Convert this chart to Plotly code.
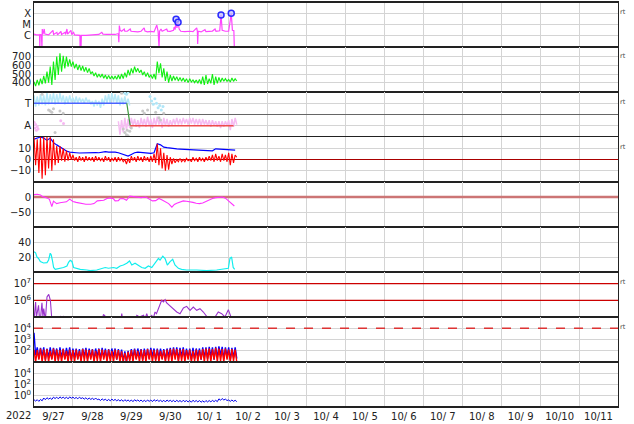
import numpy as np
import pandas as pd
import plotly.graph_objects as go
from plotly.subplots import make_subplots

# ---------------- data (hours since 2022-09-27 00:00 UT) ----------------
day_labels = ["9/27", "9/28", "9/29", "9/30", "10/ 1", "10/ 2", "10/ 3", "10/ 4",
              "10/ 5", "10/ 6", "10/ 7", "10/ 8", "10/ 9", "10/10", "10/11"]
year_label = "2022"
grid_h = list(range(0, 125, 2))

# Panel 1: X-ray flux
xr_h = [0, 1.5, 3.4, 3.6, 3.8, 4.6, 4.9, 5.1, 5.5, 6.3,
        6.7, 9, 11.7, 12.1, 14.1, 14.5, 16.6, 17, 19.1, 19.5,
        20.3, 20.7, 22.8, 23.2, 24.4, 25, 27, 28.3, 28.4, 28.7,
        29.0, 29.2, 32, 36, 40, 41.8, 42.5, 45, 48, 50,
        51.5, 52.0, 52.3, 52.6, 53.1, 54, 55.6, 56, 57.5, 59.3,
        59.8, 62, 64, 66, 67.9, 68.4, 70, 72, 74, 75.7,
        76.5, 77.1, 77.4, 78.3, 79, 81.8, 82.3, 84, 86, 86.4,
        87, 87.6, 88.1, 88.8, 89.5, 90.5, 93, 96, 98, 100.3,
        100.7, 100.9, 101.2, 103, 105.4, 106, 108, 110, 111.6, 112.2,
        114.5, 115.3, 116, 118, 120, 121.6, 122.3, 123.2, 123.5]
xr_flux = [1.4e-6, 1.2e-6, 1.2e-6, 8e-8, 1.3e-6, 1.2e-6, 8e-8, 4e-6, 1.3e-6, 4e-6,
           1.4e-6, 1.2e-6, 3e-6, 1.3e-6, 2e-6, 1.2e-6, 2.4e-6, 1.3e-6, 2e-6, 1.3e-6,
           4e-6, 1.4e-6, 3e-6, 1.3e-6, 2e-6, 1.2e-6, 1.1e-6, 1.1e-6, 8e-8, 1.1e-6,
           8e-8, 1.1e-6, 1.1e-6, 1.2e-6, 1.3e-6, 2e-6, 1.4e-6, 1.3e-6, 1.2e-6, 1.3e-6,
           1.5e-6, 1.5e-6, 2.6e-7, 8e-6, 3e-6, 2.5e-6, 4e-6, 2.5e-6, 2.5e-6, 4e-6,
           2.5e-6, 2.3e-6, 2.2e-6, 2.5e-6, 5e-6, 2.6e-6, 2.2e-6, 2.4e-6, 2.2e-6, 9e-6,
           2.5e-6, 8e-8, 2.5e-6, 4e-6, 2.5e-6, 4e-6, 2.6e-6, 2.5e-6, 3e-6, 6e-6,
           3.5e-6, 3e-5, 5e-6, 1.6e-5, 4e-6, 2.5e-6, 2.3e-6, 2.5e-6, 2.3e-6, 5e-6,
           2.5e-6, 1.9e-7, 2.5e-6, 2.2e-6, 3.5e-6, 2.3e-6, 2.4e-6, 2.6e-6, 4e-6, 2.5e-6,
           2.8e-6, 7e-5, 3e-6, 2.5e-6, 2.5e-6, 1e-4, 3e-6, 2.8e-6, 8e-8]
flare_h = [87.6, 88.8, 115.3, 121.6]
flare_flux = [3e-5, 1.6e-5, 7e-5, 1e-4]
xr_tickvals = [1e-6, 1e-5, 1e-4]
xr_ticktext = ["C", "M", "X"]

# Panel 2: solar wind speed (upper / lower readings on the 2 h grid)
sw_hi = [415, 435, 450, 481, 531, 589, 646, 704, 743,
         712, 704, 673, 646, 619, 608, 596, 581, 569,
         531, 519, 504, 504, 492, 488, 481, 481, 492,
         504, 519, 550, 569, 589, 569, 550, 531, 519,
         496, 504, 646, 627, 569, 531, 492, 481, 473,
         465, 458, 450, 450, 435, 435, 442, 473, 492,
         450, 504, 473, 465, 458, 450, 442, 458, 450]
sw_lo = [365, 373, 388, 396, 404, 377, 435, 492, 531,
         569, 589, 589, 569, 550, 542, 531, 519, 504,
         481, 465, 465, 454, 446, 446, 442, 442, 446,
         450, 465, 488, 512, 527, 519, 492, 473, 465,
         450, 442, 512, 465, 423, 404, 423, 431, 423,
         419, 415, 404, 411, 404, 396, 388, 377, 388,
         396, 377, 396, 411, 419, 419, 411, 419, 423]

# Panel 3: sector (T / A)
t_grid = list(range(0, 59, 2))
t_hi = [1.7, 1.6, 1.8, 1.7, 1.9, 1.8, 1.9, 1.8, 1.9, 1.7, 1.6, 1.7, 1.5, 1.6, 1.5,
        1.4, 1.5, 1.3, 1.2, 1.3, 1.2, 1.4, 1.7, 1.8, 1.9, 1.8, 1.7, 1.5, 1.6, 1.4]
t_lo = [0.7, 0.8, 0.9, 0.8, 0.9, 1.0, 0.9, 1.0, 1.1, 0.9, 1.0, 1.1, 1.0, 1.0, 1.1,
        1.0, 1.1, 0.9, 0.7, 0.8, 0.6, 0.8, 1.0, 1.0, 1.1, 1.0, 0.8, 0.9, 0.9, 0.8]
a_grid = list(range(52, 125, 2))
a_hi = [-0.6, -0.5, -0.3, -0.4, -0.3, -0.4, -0.5, -0.3, -0.4,
        -0.2, -0.4, -0.3, -0.2, -0.4, -0.3, -0.4, -0.5, -0.4,
        -0.3, -0.4, -0.3, -0.4, -0.3, -0.3, -0.4, -0.4, -0.4,
        -0.5, -0.5, -0.5, -0.6, -0.6, -0.6, -0.6, -0.5, -0.4, -0.3]
a_lo = [-1.8, -1.6, -1.4, -1.2, -1.0, -1.1, -1.2, -1.0, -1.1,
        -1.0, -1.2, -1.0, -0.9, -1.2, -1.0, -1.1, -1.0, -0.9,
        -0.9, -0.9, -0.8, -0.9, -0.8, -0.9, -0.9, -1.0, -0.9,
        -1.0, -1.1, -1.0, -1.1, -1.2, -1.1, -1.0, -1.4, -1.1, -0.9]
gray_h = [5, 9, 10, 11, 12, 13, 16, 18, 54, 55, 56, 57, 57.5, 58, 59, 60, 67, 68, 70, 75, 77, 78, 80]
gray_v = [1.8, 0.4, 0.3, 0.2, 0.5, -1.6, 0.3, 0.1, 1.9, -1.3, -1.6, -1.8, -1.4, -1.9, -1.5, -1.2,
          0.3, 0.1, 0.4, 0.2, -0.3, -0.5, 0.1]
tb_h = [56, 57, 58, 71.5, 72.5, 73.5, 74.5, 75.5, 76.5, 77.5, 78.5, 79.5]
tb_v = [1.9, 1.8, 2.0, 1.6, 1.2, 0.9, 1.4, 1.0, 0.6, 0.8, 0.4, 0.7]
pa_h = [0, 0.5, 1, 1.5, 2, 2.5, 16.5, 18.2]
pa_v = [-0.7, -1.2, -0.9, -1.4, -1.1, -1.3, -0.55, -0.8]
sector_h = [0, 57.2, 59.3, 123]
sector_v = [1, 1, -1, -1]

# Panel 4: IMF
bz_hi = [20, 18, 20, 20, 20, 20, 18, 12, 12,
         10, 8, 6, 4, 2, 3, 2, 3, 2,
         2, 3, 2, 1, 3, 2, 1, 2, 2,
         1, 0, 1, 3, 2, 3, 2, 3, 2,
         3, 5, 14, 10, 6, 4, 2, 1, 0,
         1, 0, 1, 0, 2, 1, 2, 1, 2,
         3, 4, 5, 3, 5, 4, 6, 5, 4]
bz_lo = [-5, -12, -17, -14, -8, -10, -5, -3, -1,
         -2, -1, 0, -1, -2, -1, -2, -1, -1,
         -2, -1, -1, -2, -1, -2, -1, -2, -1,
         -2, -4, -3, -1, -2, -1, -2, -1, -2,
         -2, -3, -5, -8, -10, -9, -4, -3, -2,
         -2, -2, -1, -2, -1, -2, -1, -2, -1,
         -1, -2, -1, -2, -1, -2, -5, -3, 2]
bt = [18, 19, 20, 19, 17, 19, 15, 13, 11,
      9, 7.5, 6.5, 6, 6, 5.8, 6, 6, 6.2,
      6.5, 6.2, 6, 6.5, 7, 6.5, 6.8, 6.5, 6,
      5.2, 4, 3, 4.5, 6, 6.5, 6.3, 6.2, 6,
      5.5, 6, 14, 13, 11, 10.5, 10, 9.8, 9.5,
      9.3, 9.2, 9, 8.8, 8.7, 8.5, 8.3, 8.2, 8,
      7.8, 7.7, 9.5, 9.3, 9, 8.8, 8.6, 8.5, 8.3]

# Panel 5: Dst
dst_h = [0, 2, 4, 5, 8, 9.5, 11, 12, 13, 14,
         16, 18, 20, 22, 24, 26, 28, 30, 32, 35,
         37, 39, 41, 43, 45, 47, 49, 50, 52, 53,
         55, 57, 59, 61, 63, 66, 69, 71, 73, 75,
         77, 79, 81, 83, 85, 86.5, 88, 90, 92, 94,
         96, 98, 100, 102, 104, 106, 108, 110, 112, 114,
         116, 118, 120, 122, 123.5]
dst_v = [8, 9, 7, 2, -3, -8, -32, -14, -18, -22,
         -19, -17, -16, -7, -15, -18, -20, -23, -24, -24,
         -22, -13, -12, -11, -5, -3, -6, -13, -12, -6,
         -5, -11, 3, 2, 0, -2, 0, -7, -13, -12,
         -5, -10, -16, -22, -34, -25, -21, -16, -13, -14,
         -15, -18, -21, -22, -20, -15, -8, -5, -2, -1,
         0, -4, -13, -24, -30]

# Panel 6
cy_h = [0, 1.0, 1.8, 2.8, 3.9, 5.9, 8.0, 9.0, 10.0, 10.6,
        11.3, 12.1, 13.1, 16.2, 18.2, 20.3, 21.3, 22.3, 23.4, 24.4,
        26.4, 28.5, 32.6, 34.6, 38.7, 41.8, 43.9, 45.9, 49.0, 51.0,
        53.1, 55.1, 57.2, 58.9, 60.3, 62.3, 64.4, 66.4, 68.5, 70.5,
        72.6, 74.6, 76.7, 77.7, 79.4, 80.8, 82.2, 83.9, 85.5, 86.9,
        89.0, 91.0, 94.1, 100.3, 106.4, 112.6, 116.7, 119.8, 120.8, 121.8,
        122.8, 123.7]
cy_v = [27, 25.6, 20, 18, 14, 12, 12.5, 16, 25, 23,
        16, 6, 3.6, 5, 6, 8, 13, 15.5, 14, 6,
        5, 3.6, 2.7, 1.8, 2.7, 5, 6, 5, 6, 5,
        8, 9.3, 11.6, 14.7, 9.3, 11.6, 9.3, 6, 5, 8,
        6, 11.6, 18, 16, 21, 18, 9.3, 13.8, 17, 9.3,
        4.9, 3.6, 2.7, 2.7, 1.8, 2.7, 3.6, 4.9, 18, 20,
        6, 3.6]

# Panel 7 (log10 values)
pr_h = [0, 0.5, 1.0, 1.5, 1.8, 2.8, 3.3, 3.9, 4.9, 5.5,
        6.0, 7.0, 8.0, 9.1, 10.1, 10.6, 11.1, 15.5, 16.2, 17.2,
        18.2, 19, 42, 42.8, 43.9, 44.5, 53.5, 54.1, 54.7, 62.5,
        63.4, 65, 67.5, 68.5, 69.5, 70.5, 72.6, 73.5, 74.6, 75.5,
        76.7, 77.7, 78.7, 79.8, 80.8, 81.8, 82.8, 83.9, 85.9, 88,
        90, 91, 92.1, 94.1, 96.2, 98.2, 100.3, 102.3, 104.4, 106.4,
        108.5, 111.6, 113.6, 115.7, 117.7, 119.8, 120.8, 121.8]
pr_log = [4.8, 5.5, 5.9, 5.0, 5.2, 5.7, 5.0, 4.8, 5.85, 5.0,
          5.5, 4.8, 6.2, 6.36, 6.0, 5.3, 4.7, 4.8, 5.05, 4.9,
          5.05, 4.7, 4.8, 5.15, 5.05, 4.7, 4.8, 5.2, 4.8, 4.8,
          5.1, 5.0, 5.1, 4.9, 5.2, 4.9, 5.1, 4.9, 5.3, 5.2,
          5.5, 5.7, 6.0, 5.9, 6.04, 5.84, 5.75, 5.7, 5.5, 5.3,
          5.2, 5.35, 5.54, 5.64, 5.4, 5.6, 5.4, 5.5, 5.3, 5.04,
          5.0, 5.0, 5.3, 5.2, 5.0, 5.44, 5.1, 4.9]
pr_levels = [1e6, 1e7]

# Panel 8 (log10 values)
eb_hi = [3.6, 2.3, 2.25, 2.3, 2.2, 2.3, 2.25, 2.2, 2.3,
         2.2, 2.25, 2.3, 2.2, 2.2, 2.15, 2.2, 2.25, 2.2,
         2.15, 2.2, 2.2, 2.25, 2.2, 2.15, 2.2, 2.2, 2.15,
         2.1, 1.95, 2.0, 2.15, 2.2, 2.2, 2.15, 2.2, 2.2,
         2.25, 2.2, 2.2, 2.2, 2.15, 2.2, 2.25, 2.3, 2.3,
         2.25, 2.3, 2.2, 2.2, 2.25, 2.2, 2.2, 2.3, 2.3,
         2.35, 2.3, 2.35, 2.4, 2.35, 2.3, 2.3, 2.25, 2.3]
eb_lo = [1.6, 1.3, 1.5, 1.2, 1.4, 1.3, 1.5, 1.2, 1.4,
         1.3, 1.5, 1.2, 1.4, 1.3, 1.2, 1.5, 1.3, 1.4,
         1.2, 1.5, 1.3, 1.4, 1.2, 1.3, 1.5, 1.2, 1.3,
         1.1, 1.0, 1.2, 1.4, 1.3, 1.5, 1.2, 1.4, 1.3,
         1.5, 1.2, 1.4, 1.3, 1.2, 1.5, 1.3, 1.4, 1.2,
         1.5, 1.3, 1.4, 1.2, 1.3, 1.5, 1.2, 1.4, 1.3,
         1.5, 1.2, 1.4, 1.6, 1.3, 1.5, 1.2, 1.4, 1.3]
er_hi = [2.1, 2.05, 2.2, 2.1, 2.15, 2.0, 2.2, 2.1, 2.05,
         2.15, 2.0, 2.1, 2.05, 2.1, 2.0, 2.15, 2.1, 2.05,
         2.1, 2.0, 2.15, 2.1, 2.05, 2.1, 2.0, 2.1, 2.05,
         1.95, 1.8, 1.9, 2.05, 2.1, 2.0, 2.1, 2.05, 2.15,
         2.1, 2.05, 2.1, 2.0, 2.05, 2.1, 2.15, 2.2, 2.15,
         2.1, 2.15, 2.05, 2.1, 2.0, 2.1, 2.05, 2.15, 2.2,
         2.2, 2.15, 2.25, 2.2, 2.15, 2.2, 2.1, 2.15, 2.1]
er_lo = [1.0, 1.2, 1.0, 1.1, 1.0, 1.2, 1.0, 1.1, 1.0,
         1.2, 1.0, 1.1, 1.0, 1.2, 1.0, 1.1, 1.0, 1.2,
         1.0, 1.1, 1.0, 1.2, 1.0, 1.1, 1.0, 1.2, 1.0,
         1.0, 1.0, 1.1, 1.0, 1.2, 1.0, 1.1, 1.0, 1.2,
         1.0, 1.1, 1.0, 1.2, 1.0, 1.1, 1.0, 1.2, 1.0,
         1.1, 1.0, 1.2, 1.0, 1.1, 1.0, 1.2, 1.0, 1.1,
         1.0, 1.2, 1.0, 1.1, 1.0, 1.2, 1.0, 1.1, 1.0]
e_level = [1e4]

# Panel 9 (log10 values)
p9_hi = [-0.7, -0.7, -0.65, -0.4, -0.35, -0.4, -0.25, -0.25, -0.2,
         -0.25, -0.25, -0.2, -0.25, -0.3, -0.25, -0.35, -0.35, -0.4,
         -0.45, -0.4, -0.6, -0.55, -0.6, -0.65, -0.6, -0.65, -0.7,
         -0.7, -0.7, -0.75, -0.75, -0.7, -0.75, -0.75, -0.8, -0.75,
         -0.75, -0.7, -0.75, -0.8, -0.8, -0.75, -0.8, -0.8, -0.8,
         -0.85, -0.8, -0.85, -0.85, -0.8, -0.85, -0.85, -0.9, -0.85,
         -0.85, -0.8, -0.8, -0.55, -0.5, -0.6, -0.75, -0.75, -0.8]
p9_lo = [-0.95, -1.0, -0.9, -0.7, -0.6, -0.65, -0.5, -0.55, -0.45,
         -0.5, -0.55, -0.45, -0.5, -0.55, -0.5, -0.6, -0.65, -0.65,
         -0.7, -0.7, -0.85, -0.8, -0.9, -0.9, -0.85, -0.9, -0.95,
         -1.0, -0.95, -1.0, -1.05, -0.95, -1.0, -1.05, -1.05, -1.0,
         -1.05, -0.95, -1.0, -1.05, -1.1, -1.0, -1.05, -1.1, -1.05,
         -1.1, -1.05, -1.1, -1.15, -1.05, -1.1, -1.15, -1.15, -1.1,
         -1.1, -1.05, -1.05, -0.8, -0.75, -0.85, -1.0, -1.0, -1.05]

# ---------------- helpers ----------------
T0 = pd.Timestamp("2022-09-27 00:00")
X_END = pd.Timestamp("2022-10-12 00:00")


def to_dt(hours):
    return [T0 + pd.Timedelta(hours=float(h)) for h in hours]


def line(fig, x, y, color, row, width=1.0, dash=None, opacity=1.0):
    fig.add_trace(go.Scatter(x=x, y=y, mode="lines", opacity=opacity,
                             line=dict(color=color, width=width, dash=dash),
                             hoverinfo="skip", showlegend=False), row=row, col=1)


def zigzag(fig, hours, hi, lo, color, row, log=False, width=1.0):
    """Noisy trace drawn as alternating upper / lower readings."""
    xs, ys = [], []
    for h, a, b in zip(hours, hi, lo):
        xs += [h, h + 1.0]
        ys += [a, b]
    if log:
        ys = [10 ** v for v in ys]
    line(fig, to_dt(xs), ys, color, row, width)


def hline(fig, value, color, row, width=1.0, dash=None):
    line(fig, [T0, X_END], [value, value], color, row, width, dash)


fig = make_subplots(rows=9, cols=1, shared_xaxes=True, vertical_spacing=0)

# Panel 1
line(fig, to_dt(xr_h), xr_flux, "#ff44ff", 1, 1.2)
fig.add_trace(go.Scatter(x=to_dt(flare_h), y=flare_flux, mode="markers",
                         marker=dict(size=6, color="rgba(190,190,255,0.7)",
                                     line=dict(color="#2a2aff", width=1.5)),
                         hoverinfo="skip", showlegend=False), row=1, col=1)

# Panel 2
zigzag(fig, grid_h, sw_hi, sw_lo, "#11ee11", 2, width=1.1)

# Panel 3
hline(fig, 0, "#666666", 3, 1.2)
zigzag(fig, t_grid, t_hi, t_lo, "#b6e8f8", 3, width=1.5)
zigzag(fig, a_grid, a_hi, a_lo, "#f6bcf2", 3, width=1.5)
fig.add_trace(go.Scatter(x=to_dt(gray_h), y=gray_v, mode="markers",
                         marker=dict(size=3, color="#c8c8c8"),
                         hoverinfo="skip", showlegend=False), row=3, col=1)
fig.add_trace(go.Scatter(x=to_dt(tb_h), y=tb_v, mode="markers",
                         marker=dict(size=3, color="#b0e6f8"),
                         hoverinfo="skip", showlegend=False), row=3, col=1)
fig.add_trace(go.Scatter(x=to_dt(pa_h), y=pa_v, mode="markers",
                         marker=dict(size=3, color="#f6b8f2"),
                         hoverinfo="skip", showlegend=False), row=3, col=1)
sx = to_dt(sector_h)
line(fig, sx[0:2], sector_v[0:2], "#4a63ff", 3, 1.5)
line(fig, sx[1:3], sector_v[1:3], "#3a9a3a", 3, 1.2)
line(fig, sx[2:4], sector_v[2:4], "#ee4d4d", 3, 1.5)

# Panel 4
hline(fig, 0, "#aa0000", 4, 1.2)
line(fig, to_dt(grid_h), bt, "#0000ff", 4, 1.2)
zigzag(fig, grid_h, bz_hi, bz_lo, "#ff0000", 4, width=1.1)

# Panel 5
hline(fig, 0, "#cc7575", 5, 2.5)
line(fig, to_dt(dst_h), dst_v, "#ff33ff", 5, 1.1)

# Panel 6
line(fig, to_dt(cy_h), cy_v, "#11eeee", 6, 1.2)

# Panel 7
for lv in pr_levels:
    hline(fig, lv, "#cc0000", 7, 1.2)
line(fig, to_dt(pr_h), [10 ** v for v in pr_log], "#9933cc", 7, 1.1)

# Panel 8
for lv in e_level:
    hline(fig, lv, "#dd3333", 8, 1.5, dash="dash")
zigzag(fig, grid_h, eb_hi, eb_lo, "#0000ff", 8, log=True, width=1.4)
zigzag(fig, grid_h, er_hi, er_lo, "#ff0000", 8, log=True, width=1.4)

# Panel 9
zigzag(fig, grid_h, p9_hi, p9_lo, "#0000ee", 9, log=True, width=1.0)

# ---------------- axes ----------------
GRID = "#d4d4d4"
AX = "#222222"
FS = 10
noons = [T0 + pd.Timedelta(hours=12 + 24 * i) for i in range(len(day_labels))]
mids = [T0 + pd.Timedelta(days=i) for i in range(len(day_labels) + 1)]

fig.update_xaxes(type="date", range=[T0, X_END], showgrid=False, zeroline=False,
                 tickmode="array", tickvals=noons, ticktext=day_labels, ticks="",
                 showline=True, mirror=True, linewidth=1, linecolor=AX,
                 minor=dict(tickmode="array", tickvals=mids, showgrid=True,
                            gridcolor=GRID, gridwidth=1, ticks=""),
                 tickfont=dict(size=FS, color="#222"))
for r in range(1, 9):
    fig.update_xaxes(showticklabels=False, row=r, col=1)
fig.update_xaxes(showticklabels=True, row=9, col=1)

yc = dict(showline=True, mirror=True, linewidth=1, linecolor=AX, zeroline=False,
          showgrid=True, gridcolor=GRID, gridwidth=1, ticks="",
          tickfont=dict(size=FS, color="#222"), fixedrange=True)
fig.update_yaxes(**yc)
fig.update_yaxes(type="log", range=[-7, -3], tickmode="array", tickvals=xr_tickvals,
                 ticktext=xr_ticktext, row=1, col=1)
fig.update_yaxes(range=[296, 815], tickmode="array", tickvals=[400, 500, 600, 700], row=2, col=1)
fig.update_yaxes(range=[-2, 2], tickmode="array", tickvals=[1, -1], ticktext=["T", "A"], row=3, col=1)
fig.update_yaxes(range=[-20, 20], tickmode="array", tickvals=[-10, 0, 10], row=4, col=1)
fig.update_yaxes(range=[-100, 50], tickmode="array", tickvals=[-50, 0], row=5, col=1)
fig.update_yaxes(range=[0, 60], tickmode="array", tickvals=[20, 40], row=6, col=1)
fig.update_yaxes(type="log", range=[5, 7.7], tickmode="array", tickvals=[1e6, 1e7],
                 ticktext=["10<sup>6</sup>", "10<sup>7</sup>"], row=7, col=1)
fig.update_yaxes(type="log", range=[1, 5], tickmode="array", tickvals=[1e2, 1e3, 1e4],
                 ticktext=["10<sup>2</sup>", "10<sup>3</sup>", "10<sup>4</sup>"], row=8, col=1)
fig.update_yaxes(type="log", range=[-2, 6], tickmode="array", tickvals=[1, 1e2, 1e4],
                 ticktext=["10<sup>0</sup>", "10<sup>2</sup>", "10<sup>4</sup>"], row=9, col=1)

# ---------------- annotations & frame ----------------
PH = 405.0
ann = []
for top_px in [2, 47, 92, 137, 272, 317]:
    ann.append(dict(xref="paper", yref="paper", x=1.009, y=(407 - top_px - 9.5) / PH,
                    text="rt", showarrow=False, font=dict(size=6.5, color="#444"),
                    xanchor="center", yanchor="middle"))
ann.append(dict(xref="paper", yref="paper", x=-0.027, y=-0.021, text=year_label,
                showarrow=False, font=dict(size=FS, color="#222"),
                xanchor="center", yanchor="middle"))

frame = [dict(type="line", xref="paper", yref="paper", x0=0, x1=1, y0=yy, y1=yy,
              line=dict(color=AX, width=2)) for yy in (0, 1)]

fig.update_layout(width=634, height=424, margin=dict(l=34, r=16, t=2, b=17),
                  paper_bgcolor="white", plot_bgcolor="white", showlegend=False,
                  font=dict(family="DejaVu Sans", size=FS, color="#222"),
                  annotations=ann, shapes=frame)

fig.write_html("out.html", config={"displayModeBar": False},
               post_script="document.body.style.margin='0px';")
